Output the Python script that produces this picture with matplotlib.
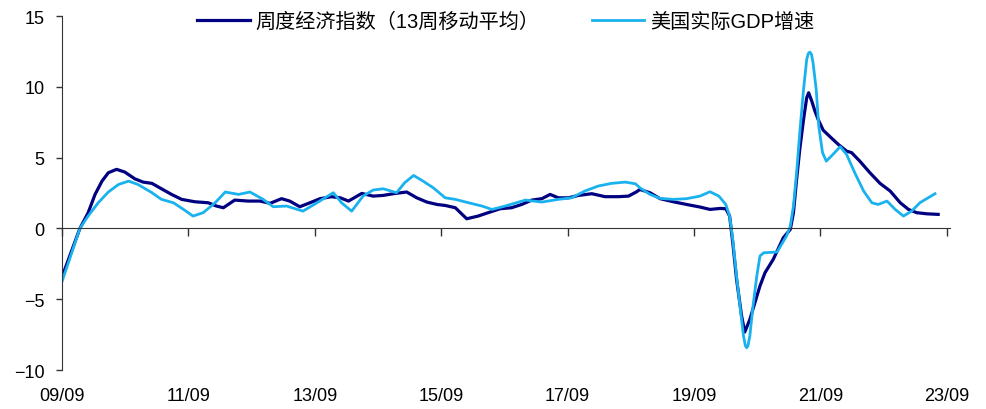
import matplotlib.pyplot as plt

# 周度经济指数（13周移动平均），decimal years
wei_t = [2009.67, 2009.95, 2010.08, 2010.19, 2010.30, 2010.40, 2010.53, 2010.66, 2010.82, 2010.95,
         2011.09, 2011.24, 2011.40, 2011.56, 2011.77, 2011.98, 2012.11, 2012.22, 2012.40, 2012.61,
         2012.80, 2012.96, 2013.14, 2013.27, 2013.43, 2013.59, 2013.75, 2013.93, 2014.07, 2014.20,
         2014.41, 2014.59, 2014.75, 2014.91, 2015.12, 2015.28, 2015.44, 2015.60, 2015.73, 2015.89,
         2016.07, 2016.25, 2016.41, 2016.60, 2016.78, 2016.94, 2017.10, 2017.26, 2017.39, 2017.52,
         2017.68, 2017.84, 2018.05, 2018.26, 2018.47, 2018.63, 2018.76, 2018.81, 2018.97, 2019.13,
         2019.34, 2019.55, 2019.76, 2019.92, 2020.08, 2020.17, 2020.23, 2020.28, 2020.34, 2020.42,
         2020.47, 2020.55, 2020.63, 2020.71, 2020.79, 2020.92, 2021.08, 2021.19, 2021.24, 2021.29,
         2021.34, 2021.40, 2021.45, 2021.48, 2021.53, 2021.58, 2021.63, 2021.71, 2021.82, 2021.95,
         2022.08, 2022.16, 2022.29, 2022.45, 2022.61, 2022.77, 2022.93, 2023.06, 2023.19, 2023.35,
         2023.53]
wei_v = [-3.4, 0.0, 1.1, 2.4, 3.34, 3.93, 4.17, 3.98, 3.5, 3.27,
         3.18, 2.8, 2.4, 2.05, 1.88, 1.81, 1.58, 1.46, 2.0, 1.93,
         1.93, 1.77, 2.1, 1.93, 1.53, 1.81, 2.1, 2.24, 2.16, 1.93,
         2.47, 2.28, 2.33, 2.45, 2.57, 2.16, 1.86, 1.69, 1.62, 1.46,
         0.68, 0.87, 1.11, 1.39, 1.46, 1.69, 2.0, 2.1, 2.4, 2.16,
         2.16, 2.33, 2.45, 2.24, 2.24, 2.28, 2.59, 2.75, 2.52, 2.1,
         1.88, 1.69, 1.51, 1.34, 1.41, 1.39, 0.87, -1.01, -3.6, -6.19,
         -7.32, -6.43, -5.25, -4.07, -3.13, -2.19, -0.66, -0.07, 1.1, 3.46,
         5.58, 7.7, 9.23, 9.58, 8.99, 8.28, 7.7, 6.94, 6.47, 5.93,
         5.46, 5.35, 4.75, 3.93, 3.18, 2.64, 1.81, 1.34, 1.11, 1.03,
         0.99]

# 美国实际GDP增速
gdp_t = [2009.67, 2009.95, 2010.08, 2010.24, 2010.40, 2010.56, 2010.72, 2010.87, 2011.09, 2011.24,
         2011.43, 2011.59, 2011.74, 2011.90, 2012.09, 2012.25, 2012.46, 2012.64, 2012.85, 2013.01,
         2013.22, 2013.48, 2013.70, 2013.96, 2014.09, 2014.25, 2014.43, 2014.59, 2014.75, 2014.96,
         2015.09, 2015.23, 2015.38, 2015.54, 2015.73, 2015.89, 2016.10, 2016.31, 2016.47, 2016.68,
         2017.00, 2017.26, 2017.52, 2017.73, 2017.94, 2018.15, 2018.36, 2018.58, 2018.74, 2018.81,
         2018.97, 2019.13, 2019.34, 2019.55, 2019.76, 2019.92, 2020.06, 2020.17, 2020.23, 2020.28,
         2020.34, 2020.40, 2020.45, 2020.48, 2020.50, 2020.52, 2020.55, 2020.60, 2020.66, 2020.71,
         2020.77, 2020.98, 2021.13, 2021.19, 2021.24, 2021.29, 2021.34, 2021.40, 2021.45, 2021.475,
         2021.50, 2021.525, 2021.55, 2021.60, 2021.64, 2021.70, 2021.76, 2021.84, 2021.98, 2022.08,
         2022.21, 2022.35, 2022.48, 2022.58, 2022.72, 2022.85, 2022.98, 2023.11, 2023.24, 2023.48]
gdp_v = [-3.72, 0.0, 0.87, 1.81, 2.57, 3.1, 3.34, 3.1, 2.52, 2.05,
         1.81, 1.34, 0.87, 1.11, 1.81, 2.57, 2.4, 2.57, 2.05, 1.53,
         1.58, 1.22, 1.81, 2.52, 1.81, 1.22, 2.28, 2.71, 2.8, 2.52,
         3.23, 3.74, 3.34, 2.87, 2.16, 2.05, 1.81, 1.58, 1.34, 1.58,
         2.0, 1.86, 2.05, 2.16, 2.64, 2.99, 3.18, 3.27, 3.15, 2.87,
         2.4, 2.12, 2.05, 2.1, 2.28, 2.59, 2.28, 1.69, 0.87, -0.78,
         -3.37, -5.72, -7.6, -8.3, -8.43, -8.3, -7.6, -5.49, -3.37, -1.95,
         -1.72, -1.67, -0.54, 0.16, 1.58, 3.93, 6.76, 9.82, 11.94, 12.35,
         12.45, 12.3, 11.7, 9.82, 7.23, 5.35, 4.75, 5.11, 5.77, 5.23,
         3.93, 2.64, 1.81, 1.69, 1.93, 1.34, 0.87, 1.22, 1.81, 2.45]

tick_years = [2009.667 + 2 * k for k in range(8)]
tick_labels = ['%02d/09' % (int(y) % 100) for y in tick_years]

plt.rcParams['font.family'] = ['Liberation Sans', 'Noto Sans CJK SC']
plt.rcParams['font.size'] = 13

fig = plt.figure(figsize=(9.87, 4.10), dpi=100)
ax = fig.add_axes([62 / 987, 1 - 371 / 410, 888 / 987, 354 / 410])

ax.plot(wei_t, wei_v, color='#000080', lw=2.3, solid_joinstyle='round',
        label='周度经济指数（13周移动平均）')
ax.plot(gdp_t, gdp_v, color='#1AB2EE', lw=2.0, solid_joinstyle='round',
        label='美国实际GDP增速')

ax.set_xlim(2009.667, 2023.717)
ax.set_ylim(-10, 15)
ax.set_yticks([-10, -5, 0, 5, 10, 15])

# x axis line sits on zero, labels stay at the bottom
ax.spines['top'].set_visible(False)
ax.spines['right'].set_visible(False)
ax.spines['bottom'].set_position(('data', 0))
ax.spines['bottom'].set_color('#333333')
ax.spines['left'].set_color('#333333')
ax.set_xticks(tick_years)
ax.tick_params(axis='x', direction='out', length=5.5, width=1, color='#333333', labelbottom=False)
ax.tick_params(axis='y', direction='out', length=4.5, width=1, color='#333333', pad=8)

sec = ax.secondary_xaxis('bottom')
sec.set_xticks(tick_years, tick_labels)
sec.tick_params(length=0, pad=12)
sec.spines['bottom'].set_visible(False)

ax.legend(loc='center', bbox_to_anchor=(0.5, 0.986), ncol=2, frameon=False,
          handlelength=2.6, handletextpad=0.3, columnspacing=2.6, fontsize=14.5)

fig.savefig('out.png', dpi=100)
